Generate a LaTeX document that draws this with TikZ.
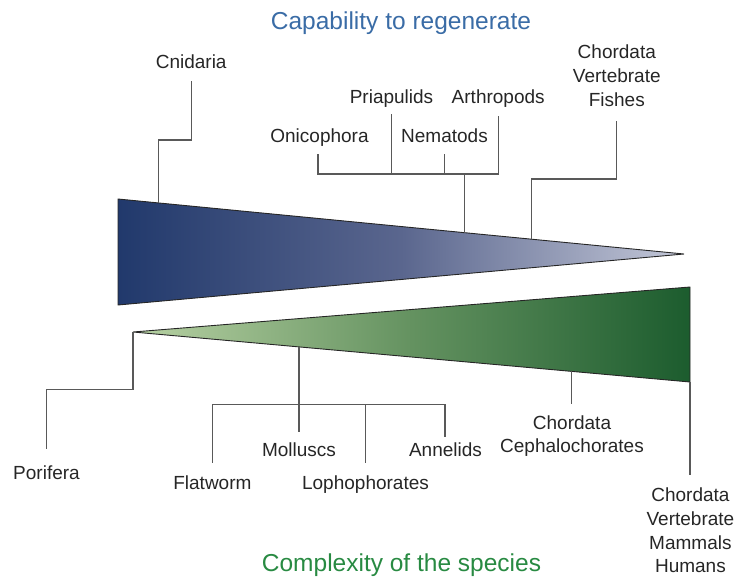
\documentclass[tikz,border=0pt]{standalone}
\usepackage{fontspec}
\setmainfont{Liberation Sans}
\begin{document}
\begin{tikzpicture}[x=1pt,y=-1pt,
  lbl/.style={inner sep=0pt,anchor=base,text=black!85,font=\fontsize{19}{23.6}\selectfont,align=center},
  ttl/.style={inner sep=0pt,anchor=base,font=\fontsize{24.5}{29}\selectfont},
  conn/.style={draw=black!65,line width=1.3pt},
  edge/.style={draw=black!85,line width=0.9pt,line join=miter}]
\useasboundingbox (0,0) rectangle (736,578);
\definecolor{bluedark}{RGB}{33,57,108}
\definecolor{bluemid}{RGB}{90,102,142}
\definecolor{bluelight}{RGB}{196,200,216}
\definecolor{greenlight}{RGB}{184,210,164}
\definecolor{greenmid}{RGB}{100,146,96}
\definecolor{greendark}{RGB}{28,92,46}
\definecolor{titleblue}{RGB}{58,108,166}
\definecolor{titlegreen}{RGB}{40,138,66}
% triangles
\coordinate (bA) at (118,199);
\coordinate (bT) at (684,254);
\coordinate (bB) at (118,305);
\coordinate (gT) at (133,332);
\coordinate (gA) at (690,287);
\coordinate (gB) at (690,382);
\shade[left color=bluedark,right color=bluelight,middle color=bluemid] (bA) -- (bT) -- (bB) -- cycle;
\draw[edge] (bA) -- (bT) -- (bB) -- cycle;
\shade[left color=greenlight,right color=greendark,middle color=greenmid] (gT) -- (gA) -- (gB) -- cycle;
\draw[edge] (gT) -- (gA) -- (gB) -- cycle;
% titles
\node[ttl,text=titleblue] (title1) at (401,29.3) {Capability to regenerate};
\node[ttl,text=titlegreen] (title2) at (401.5,571.7) {Complexity of the species};
% upper labels
\node[lbl] (cnid) at (191.2,69) {Cnidaria};
\node[lbl] (priap) at (391.5,103.3) {Priapulids};
\node[lbl] (arthro) at (498.2,103.3) {Arthropods};
\node[lbl] (onico) at (319.5,142.7) {Onicophora};
\node[lbl] (nemat) at (444.5,142.7) {Nematods};
\node[lbl] (fish) at (616.8,106) {Chordata\\Vertebrate\\Fishes};
% lower labels
\node[lbl] (porif) at (46.5,479.3) {Porifera};
\node[lbl] (flatw) at (212.4,489.3) {Flatworm};
\node[lbl] (mollu) at (299,456.7) {Molluscs};
\node[lbl] (lopho) at (365.5,489.3) {Lophophorates};
\node[lbl] (annel) at (445.5,456.7) {Annelids};
\node[lbl] (cepha) at (572,452.7) {Chordata\\Cephalochorates};
\node[lbl] (human) at (690.4,572.7) {Chordata\\Vertebrate\\Mammals\\Humans};
% upper connectors
\coordinate (cnidE) at (191.2,81);
\coordinate (cnidT) at (158.8,203);
\draw[conn] (cnidE) |- (175,140) -| (cnidT);
\coordinate (onE) at (318,154);
\coordinate (prE) at (391.4,114);
\coordinate (neE) at (444.5,154);
\coordinate (arE) at (498.5,116);
\coordinate (brY) at (318,174);
\coordinate (upT) at (464.8,232.7);
\draw[conn] (onE) -- (onE |- brY) -- (arE |- brY) -- (arE);
\draw[conn] (prE) -- (prE |- brY);
\draw[conn] (neE) -- (neE |- brY);
\draw[conn] (upT |- brY) -- (upT);
\coordinate (fiE) at (616.8,121);
\coordinate (fiT) at (531.7,239.2);
\draw[conn] (fiE) |- (570,179) -| (fiT);
% lower connectors
\coordinate (poE) at (46.5,449);
\draw[conn] (gT) |- (90,389.3) -| (poE);
\coordinate (moT) at (299,346.9);
\coordinate (moE) at (299,432.3);
\coordinate (lbY) at (212.2,404.3);
\coordinate (flE) at (212.2,462.7);
\coordinate (loE) at (365.7,462.7);
\coordinate (anE) at (445,436.7);
\draw[conn] (moT) -- (moE);
\draw[conn] (flE) -- (flE |- lbY) -- (anE |- lbY) -- (anE);
\draw[conn] (loE) -- (loE |- lbY);
\coordinate (ceT) at (571.8,371.4);
\coordinate (ceE) at (571.8,404);
\draw[conn] (ceT) -- (ceE);
\coordinate (huE) at (690,475);
\draw[conn] (gB) -- (huE);
\end{tikzpicture}
\end{document}
